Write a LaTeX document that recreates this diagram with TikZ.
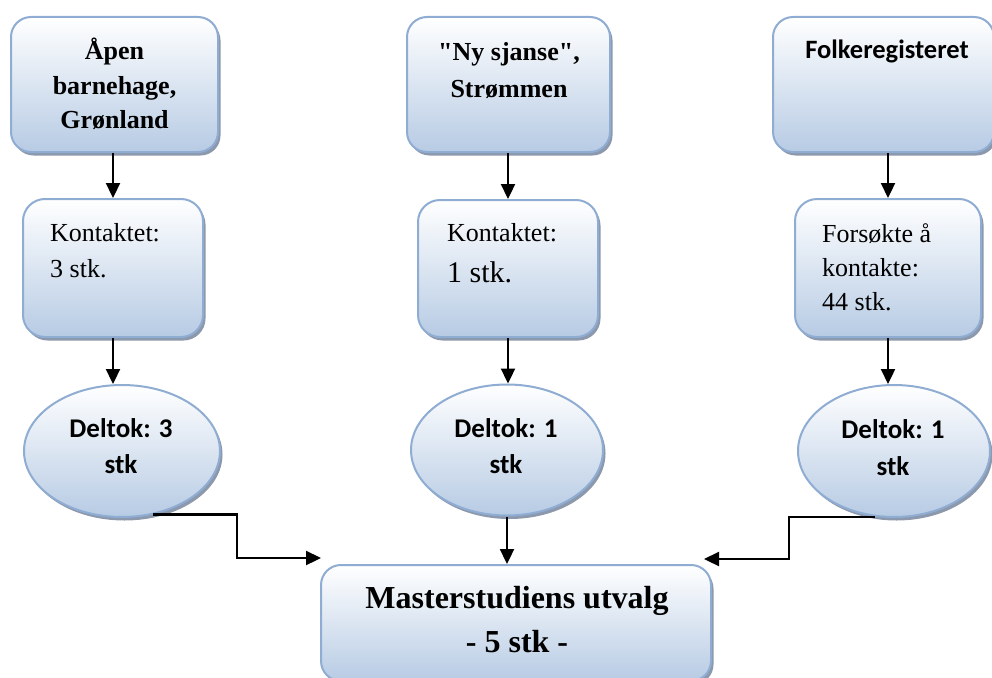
\documentclass[tikz,border=0pt]{standalone}
\usepackage{fontspec}
\setmainfont{Liberation Serif}[Ligatures=TeXOff]
\newfontfamily\calib{Carlito}
\usetikzlibrary{shapes.geometric,shadows,arrows.meta}
\definecolor{bord}{RGB}{143,172,210}
\definecolor{fbot}{RGB}{183,203,228}
\definecolor{shad}{RGB}{140,152,172}
\tikzset{
  shapebase/.style={draw=bord, line width=2pt, top color=white, bottom color=fbot,
    inner sep=0pt, drop shadow={shadow xshift=2.5pt, shadow yshift=-3.5pt, fill=shad, opacity=1}},
  rbox/.style={shapebase, rectangle, rounded corners=20pt},
  ebox/.style={shapebase, ellipse},
  toptext/.style={anchor=base, align=center, inner sep=0pt, font=\fontsize{26}{34.5}\selectfont\bfseries},
  midtext/.style={anchor=base west, align=left, inner sep=0pt, font=\fontsize{26}{36}\selectfont},
  elltext/.style={anchor=base, align=center, inner sep=0pt, font=\fontsize{27}{35.5}\selectfont\calib\bfseries},
  arr/.style={line width=2.3pt, -{Triangle[length=15pt,width=14pt]}}
}
\begin{document}
\begin{tikzpicture}[x=1pt,y=-1pt]
\useasboundingbox (0,0) rectangle (992,677);
% top boxes
\node[rbox, minimum width=207pt, minimum height=135pt] (t1) at (114.5,84.5) {};
\node[rbox, minimum width=203pt, minimum height=135pt] (t2) at (508.5,84.5) {};
\node[rbox, minimum width=221pt, minimum height=135pt] (t3) at (883.5,84.5) {};
% middle boxes
\node[rbox, rounded corners=22pt, minimum width=180pt, minimum height=138pt] (m1) at (113,268) {};
\node[rbox, rounded corners=22pt, minimum width=180pt, minimum height=137pt] (m2) at (508,268.5) {};
\node[rbox, rounded corners=22pt, minimum width=186pt, minimum height=138pt] (m3) at (888,268) {};
% ellipses
\node[ebox, minimum width=196pt, minimum height=132pt] (e1) at (122,451) {};
\node[ebox, minimum width=192pt, minimum height=131pt] (e2) at (507,450) {};
\node[ebox, minimum width=192pt, minimum height=132pt] (e3) at (894,451) {};
% final box
\node[rbox, minimum width=390pt, minimum height=116pt] (f) at (516,623) {};
% texts (anchor base = baseline of last line)
\node[toptext] (tt1) at (114.5,128.5) {Åpen\\barnehage,\\Grønland};
\node[toptext, font=\fontsize{26}{37}\selectfont\bfseries] (tt2) at (509,97) {"Ny sjanse",\\Strømmen};
\node[toptext, font=\fontsize{26.5}{30}\selectfont\calib\bfseries] (tt3) at (887,59) {Folkeregisteret};
\node[midtext] (mt1) at (50,277) {Kontaktet:\\3 stk.};
\node[midtext] (mt2) at (447,241) {Kontaktet:};
\node[midtext, font=\fontsize{30}{36}\selectfont] (mt2b) at (447,282) {1 stk.};
\node[midtext, font=\fontsize{26}{34}\selectfont] (mt3) at (822,310) {Forsøkte å\\kontakte:\\44 stk.};
\node[elltext] (et1) at (121,473) {Deltok: 3\\stk};
\node[elltext, font=\fontsize{27}{36}\selectfont\calib\bfseries] (et2) at (506,473) {Deltok: 1\\stk};
\node[elltext, font=\fontsize{27}{37}\selectfont\calib\bfseries] (et3) at (893,475) {Deltok: 1\\stk};
\node[toptext, font=\fontsize{32}{44}\selectfont\bfseries] (ft) at (517,652) {Masterstudiens utvalg\\- 5 stk -};
% connectors
\coordinate (fl) at (321,558);
\coordinate (fr) at (704,559);
\draw[arr] (m1.north |- t1.south) -- (m1.north);
\draw[arr] (m2.north |- t2.south) -- (m2.north);
\draw[arr] (m3.north |- t3.south) -- (m3.north);
\draw[arr] (m1.south) -- (m1.south |- e1.north);
\draw[arr] (m2.south) -- (m2.south |- e2.north);
\draw[arr] (m3.south) -- (m3.south |- e3.north);
\draw[arr] (e1.-64) -| ([xshift=-84pt]fl) -- (fl);
\draw[arr] (e2.south) -- (e2.south |- f.north);
\draw[arr] (e3.-106) -| ([xshift=85pt]fr) -- (fr);
\end{tikzpicture}
\end{document}
